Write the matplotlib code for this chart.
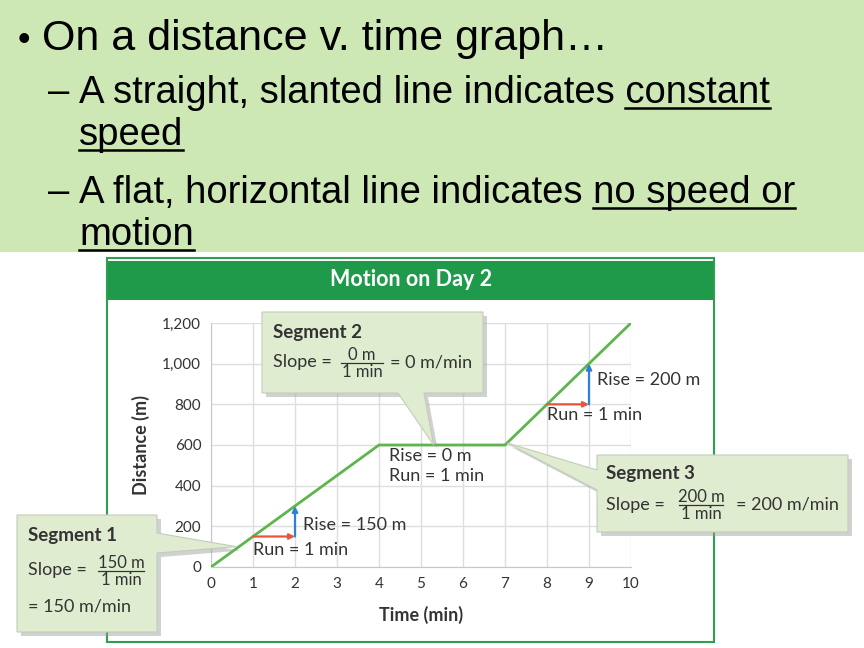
import numpy as np
import matplotlib.pyplot as plt
from matplotlib.patches import Rectangle, Polygon
from matplotlib.lines import Line2D

# chart data
time_min = [0, 4, 7, 10]
distance_m = [0, 600, 600, 1200]
x_ticks = list(range(0, 11))
y_ticks = [0, 200, 400, 600, 800, 1000, 1200]
y_tick_labels = ['0', '200', '400', '600', '800', '1,000', '1,200']

# run/rise triangles: (run start x, y at start, run, rise)
run_rise = [(1, 150, 1, 150), (8, 800, 1, 200)]

W, H = 864, 648
fig = plt.figure(figsize=(8.64, 6.48), dpi=100)
fig.patch.set_facecolor('white')

def fx(px):
    return px / W

def fy(py):
    return 1 - py / H

slide_font = ['Liberation Sans Narrow', 'Liberation Sans', 'DejaVu Sans']
chart_font = ['Lato', 'DejaVu Sans']
dark = '#333333'

# ---- slide band with bullet text ----
fig.add_artist(Rectangle((0, fy(252)), 1, 252 / H, transform=fig.transFigure,
                         facecolor='#cde8b5', edgecolor='none', zorder=-2))

renderer = fig.canvas.get_renderer()

def text_w(s, size):
    t = fig.text(0, 0, s, fontsize=size, family=slide_font)
    w = t.get_window_extent(renderer).width
    t.remove()
    return w

def slide_line(x, y, parts, size):
    full = ''.join(p for p, _ in parts)
    fig.text(fx(x), fy(y), full, fontsize=size, family=slide_font,
             va='baseline', ha='left', color='black', zorder=6)
    prefix = ''
    for p, ul in parts:
        if ul:
            end = text_w(prefix + p, size)
            start = end - text_w(p, size)
            fig.add_artist(Line2D([fx(x + start), fx(x + end)], [fy(y + 5), fy(y + 5)],
                                  transform=fig.transFigure, color='black', lw=1.8, zorder=6))
        prefix += p

fig.text(fx(18), fy(50), '\u2022', fontsize=26, family=slide_font, va='baseline', zorder=6)
slide_line(42, 50, [('On a distance v. time graph\u2026', False)], 31)
fig.text(fx(48), fy(103), '\u2013', fontsize=27.5, family=slide_font, va='baseline', zorder=6)
slide_line(79, 103, [('A straight, slanted line indicates ', False), ('constant', True)], 27.5)
slide_line(79, 145, [('speed', True)], 27.5)
fig.text(fx(48), fy(203), '\u2013', fontsize=27.5, family=slide_font, va='baseline', zorder=6)
slide_line(79, 203, [('A flat, horizontal line indicates ', False), ('no speed or', True)], 27.5)
slide_line(79, 245, [('motion', True)], 27.5)

# ---- chart panel ----
fig.add_artist(Rectangle((fx(107), fy(642)), (714 - 107) / W, (642 - 258) / H,
                         transform=fig.transFigure, facecolor='white',
                         edgecolor='#2e9e4f', lw=1.5, zorder=-1))
fig.add_artist(Rectangle((fx(108), fy(300)), (713 - 108) / W, (300 - 261) / H,
                         transform=fig.transFigure, facecolor='#1f9a4b',
                         edgecolor='none', zorder=-1))
fig.text(fx(411), fy(280), 'Motion on Day 2', fontsize=15.5, fontweight='bold',
         family=chart_font, color='white', ha='center', va='center')

ax = fig.add_axes([fx(211), fy(567), (631 - 211) / W, (567 - 323) / H])
ax.set_facecolor('none')
ax.set_xlim(0, 10)
ax.set_ylim(0, 1200)
ax.set_xticks(x_ticks)
ax.set_yticks(y_ticks)
ax.set_yticklabels(y_tick_labels)
ax.grid(True, color='#dedede', lw=1)
ax.set_axisbelow(True)
for s in ['top', 'right']:
    ax.spines[s].set_visible(False)
for s in ['left', 'bottom']:
    ax.spines[s].set_color('#c8c8c8')
ax.tick_params(length=0, labelsize=11, labelcolor=dark, pad=7)
for lab in ax.get_xticklabels() + ax.get_yticklabels():
    lab.set_family(chart_font)
ax.set_xlabel('Time (min)', fontsize=13, fontweight='bold', family=chart_font,
              color=dark, labelpad=11)
ax.set_ylabel('Distance (m)', fontsize=13, fontweight='bold', family=chart_font,
              color=dark, labelpad=9)

ax.plot(time_min, distance_m, color='#5db54b', lw=2, solid_capstyle='round', zorder=3)

for x0, y0, run, rise in run_rise:
    ax.annotate('', xy=(x0 + run, y0), xytext=(x0, y0),
                arrowprops=dict(arrowstyle='-|>', color='#e8553e', lw=1.6,
                                mutation_scale=8, shrinkA=0, shrinkB=0), zorder=4)
    ax.annotate('', xy=(x0 + run, y0 + rise), xytext=(x0 + run, y0),
                arrowprops=dict(arrowstyle='-|>', color='#2f7fd6', lw=1.6,
                                mutation_scale=8, shrinkA=0, shrinkB=0), zorder=4)

lbl = dict(fontsize=13, family=chart_font, color=dark, va='center', ha='left')
ax.text(2.19, 207, 'Rise = 150 m', **lbl)
ax.text(1.0, 86, 'Run = 1 min', **lbl)
ax.text(9.19, 920, 'Rise = 200 m', **lbl)
ax.text(8.0, 748, 'Run = 1 min', **lbl)
ax.text(4.24, 546, 'Rise = 0 m', **lbl)
ax.text(4.24, 448, 'Run = 1 min', **lbl)

# ---- callouts ----
def tip_px(xd, yd):
    px, py = ax.transData.transform((xd, yd))
    return px, H - py

def callout(verts):
    shadow = [(fx(x + 4), fy(y + 4)) for x, y in verts]
    fig.add_artist(Polygon(shadow, closed=True, transform=fig.transFigure,
                           facecolor='#9a9a9a', edgecolor='none', alpha=0.45, zorder=5))
    pts = [(fx(x), fy(y)) for x, y in verts]
    fig.add_artist(Polygon(pts, closed=True, transform=fig.transFigure,
                           facecolor='#dfecd0', edgecolor='#c4ccbb', lw=0.8, zorder=5))

def ctext(x, y, s, size=13, weight='normal', ha='left'):
    fig.text(fx(x), fy(y), s, fontsize=size, fontweight=weight, family=chart_font,
             color=dark, ha=ha, va='center', zorder=7)

def fraction(cx, y, num, den, half):
    ctext(cx, y - 8, num, size=12, ha='center')
    ctext(cx, y + 9, den, size=12, ha='center')
    fig.add_artist(Line2D([fx(cx - half), fx(cx + half)], [fy(y), fy(y)],
                          transform=fig.transFigure, color=dark, lw=0.9, zorder=7))

t1 = tip_px(0.6, 100)
callout([(17, 515), (157, 515), (157, 533), t1, (157, 553), (157, 632), (17, 632)])
ctext(28, 535, 'Segment 1', size=13.5, weight='bold')
ctext(28, 570, 'Slope =')
fraction(121, 571, '150 m', '1 min', 23)
ctext(28, 606, '= 150 m/min')

t2 = tip_px(5.3, 600)
callout([(262, 312), (483, 312), (483, 393), (424, 393), t2, (398, 393), (262, 393)])
ctext(273, 332, 'Segment 2', size=13.5, weight='bold')
ctext(273, 362, 'Slope =')
fraction(362, 363, '0 m', '1 min', 21)
ctext(390, 362, '= 0 m/min')

t3 = tip_px(7.05, 610)
callout([(597, 455), (848, 455), (848, 532), (597, 532), (597, 490), t3, (597, 470)])
ctext(606, 473, 'Segment 3', size=13.5, weight='bold')
ctext(606, 505, 'Slope =')
fraction(701, 505, '200 m', '1 min', 22)
ctext(736, 505, '= 200 m/min')

fig.savefig('out.png', dpi=100)
